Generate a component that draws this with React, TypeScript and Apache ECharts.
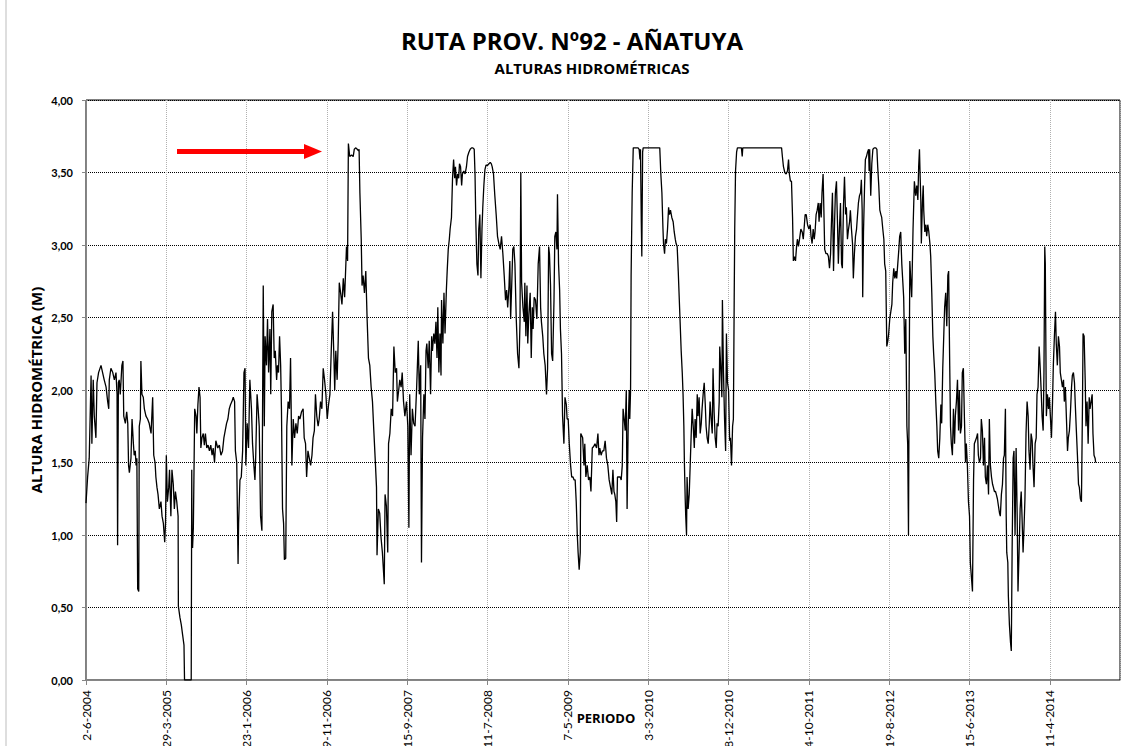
import React, { useEffect, useRef } from "react";
import * as echarts from "echarts";

// Fechas: días contados desde 2-6-2004
const FECHA_INICIO = Date.UTC(2004, 5, 2);
const DIAS_MAX = 3862;
const INTERVALO_DIAS = 300;

const TITULO = "RUTA PROV. Nº92 - AÑATUYA";
const SUBTITULO = "ALTURAS HIDROMÉTRICAS";
const EJE_Y = "ALTURA HIDROMÉTRICA (M)";
const EJE_X = "PERIODO";

// [día, altura (m)]
const tramo2004 = [[0,1.22],[6,1.40],[12,1.53],[19,2.10],[22,1.63],[27,2.07],[31,1.82],[37,1.67],[41,2.05],[47,2.12],[56,2.17],[62,2.12],[68,2.07],[75,2.02],[81,1.92],[85,1.87],[87,2.07],[93,2.15],[100,2.12],[106,2.07],[112,2.12],[116,1.97],[118,0.93],[121,2.05],[124,2.07],[128,1.97],[134,2.17],[138,2.20],[141,1.82],[147,1.77],[152,1.85],[156,1.77],[159,1.48],[162,1.43],[168,1.53],[172,1.80],[177,1.63],[180,1.55],[184,1.58],[187,1.48],[190,1.53],[193,0.63],[197,0.61],[199,1.75],[203,1.80],[205,2.20],[209,1.97],[214,1.95],[218,1.87],[224,1.82],[230,1.80],[236,1.77],[243,1.70],[249,1.95],[253,1.55],[258,1.50],[261,1.40],[265,1.33],[269,1.28],[274,1.18],[280,1.23],[284,1.13],[289,1.08],[294,0.95],[297,1.08],[300,1.55],[304,1.23],[309,1.33],[312,1.45],[317,1.13],[321,1.45],[326,1.35],[330,1.18],[334,1.30],[339,1.23],[344,1.13],[345,0.51],[351,0.43],[356,0.38],[361,0.31],[366,0.24],[368,0],[393,0],[395,1.45],[396,1.00],[398,0.91],[401,1.05],[406,1.87],[411,1.82],[414,1.70],[418,1.90],[422,2.02],[426,1.95],[429,1.60],[433,1.67],[438,1.70],[442,1.62],[446,1.70],[451,1.60],[456,1.62],[461,1.58],[466,1.62],[471,1.55],[475,1.60],[480,1.50],[485,1.65],[492,1.60],[498,1.62],[504,1.55],[510,1.58],[515,1.67],[520,1.72],[525,1.77],[530,1.80],[535,1.87],[540,1.90],[545,1.92],[550,1.95],[555,1.92],[558,1.58],[563,1.50],[568,0.80],[570,1.08],[575,1.38],[580,1.40],[585,1.58],[590,2.12],[594,2.15],[597,1.48],[602,1.77],[607,1.60]];

const tramo2006 = [[612,2.07],[618,1.87],[622,1.63],[627,1.48],[631,1.38],[634,1.55],[639,1.97],[643,1.87],[647,1.75],[652,1.13],[657,1.03],[662,2.72],[666,1.75],[669,2.37],[674,2.17],[678,2.49],[682,2.12],[687,2.42],[690,1.97],[694,2.54],[699,2.59],[703,2.22],[707,2.27],[712,2.07],[715,2.17],[719,2.12],[723,2.37],[727,2.17],[730,1.87],[734,1.18],[738,1.08],[741,0.83],[746,0.84],[750,1.75],[755,1.92],[760,1.87],[764,2.22],[769,1.48],[774,1.80],[779,1.67],[784,1.77],[789,1.70],[794,1.82],[799,1.80],[805,1.85],[811,1.87],[815,1.67],[820,1.63],[824,1.40],[829,1.58],[834,1.53],[839,1.48],[844,1.55],[848,1.67],[853,1.72],[857,1.97],[862,1.82],[867,1.75],[871,1.80],[876,1.92],[881,1.87],[886,2.15],[891,2.07],[896,1.97],[901,1.80],[906,1.90],[911,1.97],[916,2.27],[921,2.54],[926,2.22],[929,2.00],[933,2.27],[938,2.07],[942,2.34],[946,2.74],[951,2.67],[956,2.59],[961,2.77],[966,2.64],[969,2.79],[973,2.99],[977,2.89],[980,3.70],[985,3.61],[992,3.62],[998,3.61],[1002,3.66],[1008,3.67],[1013,3.66],[1018,3.65],[1020,3.66],[1023,3.36],[1028,3.04],[1031,2.72],[1035,2.79],[1040,2.67],[1045,2.82],[1050,2.49],[1055,2.22],[1060,2.17],[1065,2.02],[1070,1.92],[1075,1.72],[1080,1.53],[1085,1.33],[1087,0.86],[1092,1.18],[1097,1.15],[1102,0.98],[1107,0.88],[1114,0.66],[1117,1.28],[1122,1.20],[1127,0.88],[1130,1.63],[1135,1.70],[1140,1.87],[1145,1.82],[1150,2.30],[1155,2.12],[1160,2.15],[1163,1.92],[1168,2.00],[1172,2.07],[1177,2.02],[1181,2.12],[1186,1.92],[1191,1.82],[1197,1.92],[1202,1.75],[1206,1.05],[1209,1.97],[1214,1.55],[1219,1.87],[1224,1.77]];

const tramo2007 = [[1229,1.75],[1235,2.02],[1241,2.34],[1245,1.97],[1250,2.17],[1253,0.81],[1257,1.67],[1262,1.97],[1266,1.80],[1270,2.27],[1273,2.32],[1278,2.15],[1282,2.34],[1287,1.97],[1291,2.37],[1294,2.27],[1299,2.39],[1303,2.32],[1307,2.47],[1311,2.22],[1314,2.57],[1318,2.12],[1322,2.39],[1326,2.10],[1328,2.62],[1333,2.32],[1337,2.67],[1341,2.39],[1346,2.69],[1349,2.82],[1353,2.97],[1357,3.04],[1360,3.11],[1365,3.19],[1369,3.46],[1373,3.59],[1377,3.46],[1380,3.54],[1384,3.41],[1388,3.49],[1392,3.46],[1395,3.56],[1399,3.54],[1403,3.41],[1406,3.49],[1411,3.51],[1416,3.49],[1421,3.54],[1425,3.61],[1430,3.64],[1435,3.66],[1440,3.67],[1445,3.67],[1450,3.66],[1453,3.49],[1456,3.16],[1460,2.87],[1464,2.79],[1467,3.11],[1471,3.21],[1475,2.77],[1479,3.11],[1482,3.26],[1486,3.41],[1490,3.52],[1494,3.55],[1500,3.55],[1505,3.56],[1510,3.57],[1514,3.56],[1517,3.54],[1522,3.49],[1527,3.34],[1532,3.21],[1537,3.06],[1542,3.01],[1547,2.97],[1552,3.06],[1557,2.94],[1562,2.79],[1567,2.62],[1571,2.69],[1575,2.57],[1580,2.72],[1583,2.89],[1586,2.49],[1590,2.72],[1594,2.97],[1598,2.99],[1602,2.87],[1607,2.49],[1612,2.25],[1617,2.15],[1621,2.47],[1624,3.50],[1627,2.74],[1632,2.57],[1637,2.47],[1639,2.74],[1643,2.37],[1647,2.72],[1650,2.32],[1654,2.52],[1659,2.67],[1663,2.22],[1667,2.57],[1670,2.42],[1674,2.64],[1679,2.62],[1684,2.49],[1689,2.87],[1694,2.99],[1698,2.57],[1701,2.47],[1706,2.37],[1710,2.25],[1715,2.17],[1720,1.97],[1724,2.15],[1728,2.99],[1731,2.94],[1735,2.72],[1739,2.25],[1743,2.20],[1748,2.62],[1751,3.06],[1755,3.09],[1759,2.97],[1761,3.35],[1765,2.87],[1769,2.69],[1772,2.42],[1776,2.25],[1780,1.82],[1785,1.63],[1789,1.95],[1794,1.90],[1797,1.80],[1801,1.80],[1805,1.63],[1810,1.48],[1814,1.40],[1819,1.40],[1823,1.38],[1827,1.38],[1831,1.23],[1835,1.00],[1838,0.88],[1842,0.76],[1846,0.88]];

const tramo2009 = [[1848,1.70],[1855,1.67],[1860,1.48],[1863,1.63],[1867,1.40],[1872,1.48],[1877,1.38],[1882,1.40],[1886,1.30],[1891,1.60],[1896,1.61],[1901,1.63],[1907,1.60],[1912,1.70],[1916,1.55],[1919,1.60],[1924,1.55],[1929,1.58],[1934,1.58],[1939,1.65],[1944,1.53],[1949,1.48],[1954,1.38],[1959,1.33],[1964,1.28],[1968,1.45],[1972,1.30],[1975,1.28],[1979,1.23],[1982,1.09],[1985,1.40],[1990,1.40],[1995,1.40],[1999,1.38],[2003,1.48],[2006,1.87],[2010,1.80],[2014,1.72],[2018,2.00],[2021,1.18],[2025,1.75],[2029,2.00],[2031,1.80],[2034,2.00],[2036,2.79],[2040,3.36],[2044,3.67],[2050,3.67],[2056,3.67],[2062,3.67],[2066,3.66],[2069,3.59],[2071,3.66],[2074,3.16],[2076,2.92],[2079,3.64],[2081,3.67],[2143,3.67],[2147,3.49],[2151,3.36],[2155,3.11],[2157,3.01],[2161,2.94],[2164,3.04],[2168,3.01],[2172,3.11],[2176,3.26],[2179,3.21],[2183,3.24],[2188,3.19],[2193,3.16],[2197,3.09],[2201,3.04],[2204,3.01],[2208,2.99],[2212,2.82],[2216,2.62],[2219,2.47],[2223,2.27],[2227,2.12],[2230,1.97],[2233,1.75],[2235,1.50],[2238,1.25],[2240,1.13],[2243,1.00],[2245,1.40],[2249,1.18],[2253,1.28],[2257,1.50],[2260,1.67],[2264,1.87],[2268,1.75],[2272,1.60],[2275,1.80],[2279,1.67],[2283,1.97],[2286,1.82],[2290,1.95],[2294,1.70],[2298,1.77],[2301,1.87],[2305,1.97],[2309,2.05],[2313,1.90],[2316,1.75],[2320,1.67],[2324,1.63],[2328,1.77],[2331,1.92],[2335,1.80],[2339,1.70],[2342,2.15],[2346,1.85],[2350,1.67],[2354,1.60],[2357,1.77],[2361,1.75],[2365,1.92],[2367,2.30],[2371,2.15],[2375,1.95],[2377,2.62],[2381,2.12],[2385,1.80],[2389,1.58],[2392,2.39],[2396,2.05],[2400,2.00],[2404,1.65],[2407,1.67],[2411,1.48],[2415,1.75],[2418,1.80],[2421,2.62],[2423,3.11],[2426,3.51],[2430,3.64],[2433,3.67],[2442,3.67],[2448,3.67],[2451,3.61],[2453,3.67]];

const tramo2011 = [[2598,3.67],[2601,3.61],[2605,3.54],[2610,3.50],[2615,3.49],[2620,3.51],[2624,3.59],[2627,3.49],[2631,3.44],[2635,3.44],[2639,3.19],[2642,2.89],[2646,2.92],[2650,2.89],[2654,2.99],[2657,3.04],[2661,2.99],[2665,3.04],[2670,3.11],[2675,3.09],[2679,3.04],[2682,3.11],[2686,3.21],[2690,3.21],[2695,3.14],[2700,3.11],[2705,3.14],[2708,3.06],[2712,3.01],[2716,3.11],[2720,3.04],[2723,3.09],[2727,3.21],[2731,3.24],[2735,3.29],[2738,3.16],[2742,3.29],[2746,3.19],[2749,3.36],[2753,3.49],[2756,3.24],[2759,2.97],[2764,2.94],[2769,2.94],[2773,2.92],[2777,2.84],[2781,2.94],[2784,3.14],[2788,3.36],[2792,2.82],[2796,3.16],[2799,3.36],[2803,3.44],[2807,3.14],[2810,2.87],[2814,3.11],[2818,3.29],[2822,2.87],[2825,2.84],[2829,3.26],[2833,3.47],[2837,3.21],[2840,3.26],[2844,3.04],[2848,3.11],[2852,3.16],[2855,3.24],[2859,3.11],[2863,3.01],[2866,2.77],[2870,2.94],[2874,3.06],[2878,3.11],[2881,3.19],[2885,3.29],[2889,3.34],[2893,3.36],[2896,3.45],[2899,3.24],[2901,2.64],[2904,3.09],[2908,3.41],[2911,3.59],[2915,3.61],[2919,3.64],[2923,3.66],[2925,3.51],[2927,3.66],[2931,3.34],[2935,3.56],[2939,3.66],[2944,3.67],[2950,3.67],[2954,3.66],[2957,3.54],[2961,3.41],[2965,3.24],[2969,3.21],[2972,3.19],[2976,3.11],[2980,3.04],[2983,2.87],[2987,2.82],[2991,2.30],[2995,2.34],[2998,2.39],[3002,2.49],[3006,2.54],[3010,2.59],[3013,2.74],[3017,2.84],[3021,2.77],[3025,2.82],[3028,2.77],[3032,2.87],[3036,2.97],[3039,3.06],[3043,3.09],[3047,2.87],[3051,2.74],[3054,2.64],[3058,2.25],[3062,2.49],[3066,1.75],[3069,1.63],[3072,1.00],[3074,1.87],[3077,2.89]];

const tramo2013 = [[3081,2.74],[3084,2.64],[3089,3.11],[3094,3.44],[3099,3.34],[3103,3.41],[3107,3.31],[3110,3.54],[3113,3.66],[3115,3.51],[3118,3.31],[3120,3.01],[3124,3.29],[3127,3.41],[3129,3.24],[3133,3.09],[3137,3.14],[3140,3.06],[3144,3.14],[3148,3.09],[3152,3.01],[3155,2.92],[3159,2.67],[3163,2.37],[3166,2.25],[3170,2.12],[3174,1.92],[3178,1.75],[3181,1.58],[3185,1.53],[3189,1.67],[3193,1.90],[3196,1.77],[3200,2.15],[3204,2.39],[3207,2.57],[3211,2.67],[3215,2.44],[3219,2.79],[3222,2.82],[3226,2.17],[3229,1.75],[3232,1.63],[3236,1.55],[3240,1.87],[3244,1.63],[3247,1.82],[3251,1.92],[3255,2.07],[3259,1.72],[3262,2.00],[3266,1.70],[3270,1.75],[3273,2.12],[3277,2.15],[3281,1.80],[3285,1.50],[3288,1.63],[3292,1.48],[3296,1.23],[3300,1.13],[3303,0.81],[3307,0.71],[3311,0.61],[3315,1.38],[3318,1.63],[3322,1.65],[3326,1.67],[3330,1.70],[3333,1.55],[3337,1.50],[3341,1.53],[3344,1.80],[3348,1.72],[3352,1.48],[3356,1.67],[3359,1.40],[3363,1.35],[3367,1.48],[3371,1.28],[3374,1.80],[3378,1.48],[3382,1.40],[3386,1.35],[3389,1.33],[3393,1.30],[3397,1.30],[3400,1.28],[3404,1.25],[3408,1.20],[3412,1.15],[3415,1.13],[3419,1.28],[3423,1.35],[3427,1.53],[3430,1.55],[3434,1.87],[3437,1.13],[3439,0.88],[3443,0.81],[3445,0.58],[3449,0.38],[3453,0.26],[3456,0.20],[3459,0.88],[3463,1.53],[3466,1.58],[3470,1.00],[3474,1.60],[3478,1.13],[3481,0.61],[3485,0.88],[3489,1.18],[3493,1.30],[3496,1.13],[3500,0.88],[3504,1.08],[3507,1.25],[3511,1.70],[3515,1.92],[3519,1.82],[3522,1.58],[3526,1.45],[3530,1.70],[3534,1.65],[3537,1.48],[3541,1.33],[3545,1.63],[3549,1.67],[3552,1.97],[3556,2.02],[3560,2.30],[3564,2.15],[3567,2.02],[3571,1.82],[3575,1.72],[3578,2.12],[3581,2.99],[3583,2.87],[3587,1.82],[3591,1.97],[3595,1.87],[3598,1.95],[3602,1.82],[3606,1.67],[3610,1.92],[3613,2.17],[3617,2.37],[3621,2.54],[3624,2.32],[3628,2.17],[3632,2.37],[3636,2.30],[3639,2.12],[3643,2.07],[3647,2.02],[3651,2.07],[3654,1.92],[3658,2.02],[3662,1.80],[3666,1.58],[3669,1.67],[3673,1.72],[3677,1.85],[3681,2.02],[3684,2.10],[3688,2.12],[3692,2.05],[3695,1.90],[3699,1.72],[3703,1.55],[3707,1.35],[3710,1.33],[3714,1.25],[3718,1.23],[3722,1.92],[3724,2.39],[3728,2.37],[3732,2.07],[3735,1.75],[3739,1.92],[3743,1.63],[3747,1.95],[3750,1.87],[3754,1.92],[3758,1.97],[3761,1.70],[3765,1.55],[3769,1.53],[3771,1.50]];

const serie = [...tramo2004, ...tramo2006, ...tramo2007, ...tramo2009, ...tramo2011, ...tramo2013];

const FUENTE = "'Open Sans', Lato, 'DejaVu Sans', sans-serif";
const FUENTE_EJES = "Lato, 'Open Sans', 'DejaVu Sans', sans-serif";

function etiquetaFecha(v: number): string {
  const d = new Date(FECHA_INICIO + Math.round(v) * 86400000);
  return `${d.getUTCDate()}-${d.getUTCMonth() + 1}-${d.getUTCFullYear()}`;
}

export default function App() {
  const ref = useRef<HTMLDivElement>(null);
  useEffect(() => {
    document.body.style.margin = "0";
    if (!ref.current) return;
    const chart = echarts.init(ref.current, null, { renderer: "svg" });
    chart.setOption({
      animation: false,
      backgroundColor: "#fff",
      grid: {
        left: 86, top: 100, right: 9, bottom: 66,
        containLabel: false,
        outerBoundsMode: "none",
        show: true, borderColor: "#000", borderWidth: 1,
      },
      xAxis: {
        type: "value",
        min: 0,
        max: DIAS_MAX,
        interval: INTERVALO_DIAS,
        axisLine: { show: true, onZero: false, lineStyle: { color: "#868686", width: 1 } },
        axisTick: { show: true, length: 5, lineStyle: { color: "#868686" } },
        axisLabel: {
          rotate: 90, fontSize: 12, color: "#000", fontFamily: FUENTE_EJES, margin: 10,
          showMaxLabel: false, formatter: (v: number) => etiquetaFecha(v),
        },
        splitLine: { show: true, lineStyle: { color: "#b0b0b0", type: "dotted", width: 1 } },
      },
      yAxis: {
        type: "value",
        min: 0,
        max: 4,
        interval: 0.5,
        axisLine: { show: true, lineStyle: { color: "#868686", width: 1 } },
        axisTick: { show: true, length: 4, lineStyle: { color: "#868686" } },
        axisLabel: {
          fontSize: 11, fontWeight: "bold", color: "#000", fontFamily: FUENTE_EJES, margin: 13,
          formatter: (v: number) => v.toFixed(2).replace(".", ","),
        },
        splitLine: { show: true, lineStyle: { color: "#000", type: "dotted", width: 1 } },
      },
      series: [
        {
          type: "line",
          data: serie,
          showSymbol: false,
          silent: true,
          lineStyle: { color: "#000", width: 1.3 },
        },
      ],
      graphic: [
        { type: "line", shape: { x1: 6, y1: 0, x2: 6, y2: 746 }, style: { stroke: "#bdbdbd", lineWidth: 1 } },
        {
          type: "text", x: 572, y: 40,
          style: { text: TITULO, font: `bold 24px ${FUENTE}`, fill: "#000", textAlign: "center", textVerticalAlign: "middle" },
        },
        {
          type: "text", x: 592, y: 68,
          style: { text: SUBTITULO, font: `bold 15px ${FUENTE}`, fill: "#000", textAlign: "center", textVerticalAlign: "middle" },
        },
        {
          type: "text", x: 36, y: 390, rotation: Math.PI / 2,
          style: { text: EJE_Y, font: `bold 15px ${FUENTE}`, fill: "#000", textAlign: "center", textVerticalAlign: "middle" },
        },
        {
          type: "text", x: 606, y: 718, z: 100,
          style: {
            text: EJE_X, font: `bold 13px ${FUENTE}`, fill: "#000", textAlign: "center", textVerticalAlign: "middle",
            backgroundColor: "#fff", padding: [1, 2],
          },
        },
        { type: "rect", shape: { x: 177, y: 149, width: 129, height: 5 }, style: { fill: "#ff0000" }, z: 100 },
        {
          type: "polygon", shape: { points: [[304, 144], [322, 151.5], [304, 159]] },
          style: { fill: "#ff0000" }, z: 100,
        },
      ],
    });
    return () => chart.dispose();
  }, []);
  return <div ref={ref} style={{ width: 1129, height: 746 }} />;
}
